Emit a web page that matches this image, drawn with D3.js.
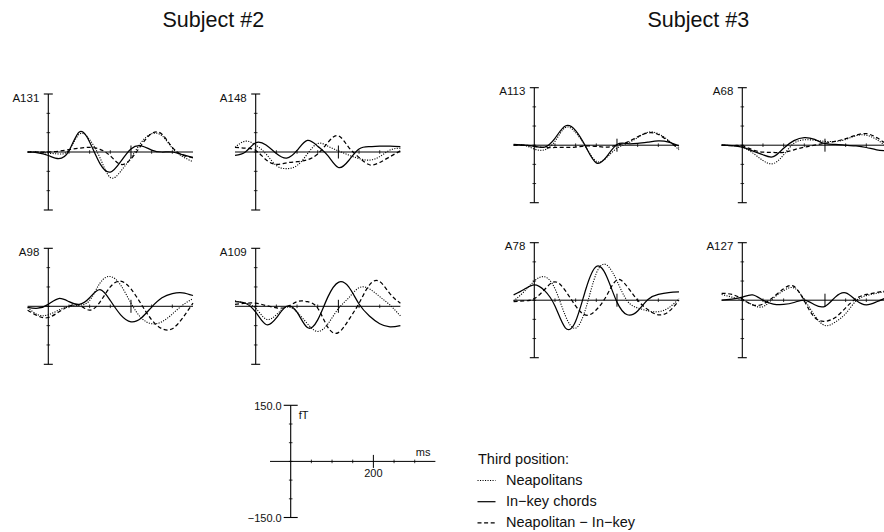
<!DOCTYPE html>
<html><head><meta charset="utf-8">
<script src="https://cdn.jsdelivr.net/npm/d3@7"></script>
<style>
body{margin:0;background:#fff}
svg text{font-family:"Liberation Sans",Arial,Helvetica,sans-serif;fill:#111}
</style>
</head><body>
<svg id="chart" width="884" height="532"></svg>
<script>
// ---------- data ----------
const times = [-50,-25,0,25,50,75,100,125,150,175,200,225,250,275,300,325,350]; // ms
const subjects = ["Subject #2", "Subject #3"];
const seriesNames = ["Neapolitans", "In\u2212key chords", "Neapolitan \u2212 In\u2212key"];
const yTicks = [-150,-100,-50,0,50,100,150];   // fT
const xTicks = [50,100,150,200,250,300];       // ms
const scaleLabels = ["150.0", "\u2212150.0", "fT", "ms", "200"];

// values in fT at each time point (Neapolitans, In-key, difference)
const A131_neap  = [0,0,-3,-5,5,46,32,-15,-66,-50,-15,25,47,42,10,-12,-25];
const A131_inkey = [0,-2,-9,-17,3,52,26,-30,-52,-25,8,16,5,0,0,-7,-14];
const A131_diff  = [0,0,0,2,6,10,12,7,-10,-32,-18,18,48,46,12,-8,-15];

const A148_neap  = [12,28,18,-5,-35,-43,-35,-5,22,15,3,-8,-17,-21,-12,5,10];
const A148_inkey = [-9,0,24,18,-4,-16,4,30,15,-10,-40,-22,8,14,15,15,14];
const A148_diff  = [12,10,4,-20,-32,-28,-25,-20,-5,25,42,12,-14,-33,-27,-12,3];

const A98_neap   = [-3,-22,-22,-10,0,3,15,60,77,55,8,-30,-45,-40,-20,3,20];
const A98_inkey  = [-3,-5,5,20,12,5,22,43,15,-22,-40,-30,-2,22,33,35,28];
const A98_diff   = [-10,-25,-29,-15,0,3,-10,11,50,65,45,5,-35,-58,-58,-30,8];

const A109_neap  = [14,8,-5,-33,-22,-2,-15,-45,-65,-45,-6,22,48,45,25,3,-25];
const A109_inkey = [12,8,-15,-47,-30,0,-15,-55,-35,25,62,50,6,-25,-45,-53,-50];
const A109_diff  = [5,8,8,2,-4,-2,12,12,-5,-55,-68,-35,8,55,64,32,8];

const A113_neap  = [0,0,-10,-12,10,46,33,-5,-42,-32,-8,5,20,34,30,12,-12];
const A113_inkey = [2,0,-3,-5,18,50,38,-5,-46,-30,2,4,5,8,11,8,-2];
const A113_diff  = [0,0,-3,-6,-6,-6,-5,-2,-3,-5,0,8,22,32,28,10,-8];

const A68_neap   = [0,-1,-5,-20,-40,-48,-25,5,14,13,10,10,15,25,26,15,-5];
const A68_inkey  = [1,-1,-5,-15,-25,-30,-8,12,20,15,4,2,0,-2,-6,-12,-15];
const A68_diff   = [0,-1,-2,-12,-18,-19,-19,-12,-5,0,5,10,17,26,30,20,2];

const A78_neap   = [-2,22,50,61,30,-40,-73,-20,70,92,50,-2,-20,-28,-30,-20,4];
const A78_inkey  = [14,28,40,25,-15,-72,-55,30,88,62,-5,-38,-28,2,15,20,22];
const A78_diff   = [-4,-2,4,28,48,25,-15,-39,-25,12,53,35,0,-25,-38,-30,0];

const A127_neap  = [15,8,0,-12,-17,5,25,32,2,-40,-66,-57,-35,-2,12,18,24];
const A127_inkey = [0,3,8,14,0,-10,-11,-6,0,-12,-16,8,19,0,-12,-4,7];
const A127_diff  = [18,15,3,-12,-10,8,30,36,-2,-45,-55,-45,-20,4,15,20,25];

// ---------- layout ----------
const panels = [
  {ch:"A131", s:[A131_neap,A131_inkey,A131_diff], x0:48.3,  top:94,    h:116},
  {ch:"A148", s:[A148_neap,A148_inkey,A148_diff], x0:255.7, top:94,    h:116},
  {ch:"A98",  s:[A98_neap, A98_inkey, A98_diff ], x0:48.3,  top:248.3, h:116},
  {ch:"A109", s:[A109_neap,A109_inkey,A109_diff], x0:255.7, top:248.3, h:116},
  {ch:"A113", s:[A113_neap,A113_inkey,A113_diff], x0:534.3, top:87.7,  h:115},
  {ch:"A68",  s:[A68_neap, A68_inkey, A68_diff ], x0:742.3, top:87.7,  h:115},
  {ch:"A78",  s:[A78_neap, A78_inkey, A78_diff ], x0:534.3, top:242.7, h:115},
  {ch:"A127", s:[A127_neap,A127_inkey,A127_diff], x0:742.3, top:242.7, h:115}
];
const msPx = 20.67 / 50;
const dashes = ["1.1,1.4", null, "4,2.6"];
const svg = d3.select("#chart");

function axesFor(g, x, y, capL, capR, bigTick) {
  const y0 = y(0), x0 = x(0);
  g.append("line").attr("x1", x(-50)).attr("x2", x(350)).attr("y1", y0).attr("y2", y0)
    .attr("stroke", "#000").attr("stroke-width", 1);
  g.append("line").attr("x1", x0).attr("x2", x0).attr("y1", y(150)).attr("y2", y(-150))
    .attr("stroke", "#000").attr("stroke-width", 1.1);
  yTicks.forEach(v => {
    const yy = y(v);
    const isEnd = Math.abs(v) === 150;
    g.append("line").attr("x1", x0 - (isEnd ? capL : 1.8)).attr("x2", x0 + (isEnd ? capR : 1.8))
      .attr("y1", yy).attr("y2", yy).attr("stroke", "#000").attr("stroke-width", isEnd ? 1.1 : 0.8);
  });
  xTicks.forEach(v => {
    const xx = x(v);
    const big = v === 200 ? bigTick : 1.8;
    g.append("line").attr("x1", xx).attr("x2", xx).attr("y1", y0 - big).attr("y2", y0 + big)
      .attr("stroke", "#000").attr("stroke-width", v === 200 ? 1 : 0.8);
  });
}

panels.forEach(p => {
  const x = d3.scaleLinear().domain([0, 200]).range([p.x0, p.x0 + 200 * msPx]);
  const y = d3.scaleLinear().domain([-150, 150]).range([p.top + p.h, p.top]);
  const g = svg.append("g");
  axesFor(g, x, y, 4.5, 4.5, 6.5);
  g.append("text").attr("x", p.x0 - 9).attr("y", p.top + 7.5).attr("text-anchor", "end")
    .attr("font-size", 11.5).text(p.ch);
  const line = d3.line().x((d, i) => x(times[i])).y(d => y(d)).curve(d3.curveNatural);
  p.s.forEach((vals, k) => {
    g.append("path").datum(vals).attr("d", line).attr("fill", "none")
      .attr("stroke", "#000").attr("stroke-width", k === 0 ? 1.1 : 1.25)
      .attr("stroke-dasharray", dashes[k]);
  });
});

// titles
svg.append("text").attr("x", 213.3).attr("y", 27.3).attr("text-anchor", "middle")
  .attr("font-size", 21.5).text(subjects[0]);
svg.append("text").attr("x", 698.3).attr("y", 27.3).attr("text-anchor", "middle")
  .attr("font-size", 21.5).text(subjects[1]);

// scale panel
{
  const x0 = 290.7;
  const x = d3.scaleLinear().domain([0, 200]).range([x0, x0 + 200 * msPx]);
  const y = d3.scaleLinear().domain([-150, 150]).range([517.5, 405.3]);
  const g = svg.append("g");
  axesFor(g, x, y, 7, 7, 6.5);
  g.append("text").attr("x", x0 - 9).attr("y", y(150) + 4.5).attr("text-anchor", "end")
    .attr("font-size", 11).text(scaleLabels[0]);
  g.append("text").attr("x", x0 - 9).attr("y", y(-150) + 4.5).attr("text-anchor", "end")
    .attr("font-size", 11).text(scaleLabels[1]);
  g.append("text").attr("x", x0 + 8).attr("y", y(150) + 14).attr("font-size", 11).text(scaleLabels[2]);
  g.append("text").attr("x", x(300) + 1).attr("y", y(0) - 5).attr("font-size", 11).text(scaleLabels[3]);
  g.append("text").attr("x", x(200)).attr("y", y(0) + 16).attr("text-anchor", "middle")
    .attr("font-size", 11).text(scaleLabels[4]);
}

// legend
{
  const lx = 478, g = svg.append("g");
  g.append("text").attr("x", lx).attr("y", 463.5).attr("font-size", 14.5).text("Third position:");
  seriesNames.forEach((name, k) => {
    const yy = 485 + k * 21.2;
    g.append("line").attr("x1", lx - 0.5).attr("x2", lx + 17.5).attr("y1", yy - 4.5).attr("y2", yy - 4.5)
      .attr("stroke", "#000").attr("stroke-width", k === 0 ? 1 : 1.2).attr("stroke-dasharray", dashes[k]);
    g.append("text").attr("x", 506).attr("y", yy).attr("font-size", 14.5).text(name);
  });
}
</script>
</body></html>
